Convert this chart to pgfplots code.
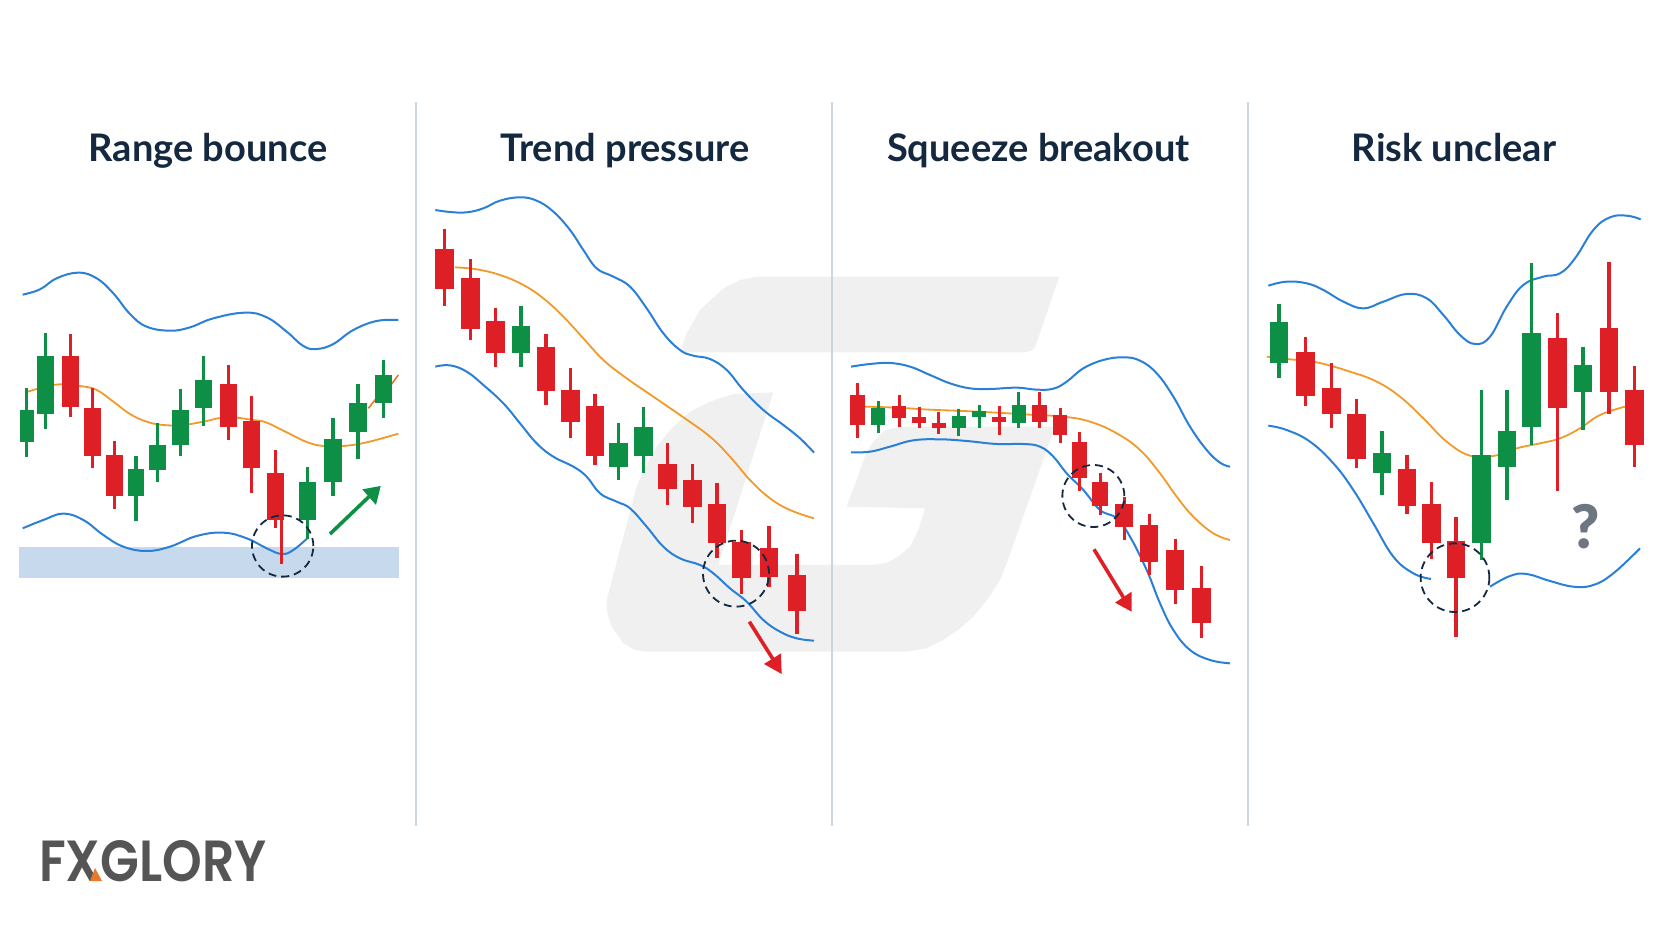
\documentclass[border=0pt]{standalone}
\usepackage{fontspec}
\setmainfont{Lato}
\newfontfamily\logofont{Poppins SemiBold}
\newfontfamily\qfont{Lato Black}
\usepackage{pgfplots}
\pgfplotsset{compat=1.18}
\definecolor{cred}{HTML}{DF1F26}
\definecolor{cgreen}{HTML}{0D8F46}
\definecolor{cblue}{HTML}{2A7FD6}
\definecolor{corange}{HTML}{F19A2A}
\definecolor{cnavy}{HTML}{14283F}
\definecolor{cband}{HTML}{C6D9ED}
\definecolor{cmark}{HTML}{F0F0F0}
\definecolor{cdiv}{HTML}{CBD5DD}
\definecolor{clogo}{HTML}{555555}
\definecolor{corg}{HTML}{E8792B}
\definecolor{cq}{HTML}{6E7681}
\pgfplotsset{
  panel/.style={hide axis, scale only axis, clip=false, y dir=reverse, anchor=south west,
    title style={font=\fontsize{38}{44}\selectfont\bfseries, text=cnavy, anchor=center, text height=29pt, text depth=9pt, inner sep=0pt}},
  upper/.style={cblue, line width=2pt, smooth, tension=0.7, no markers},
  mid/.style={corange, line width=1.8pt, smooth, tension=0.7, no markers},
}
% x, wick top, body top, body bottom, wick bottom, colour, body width, wick width
\newcommand{\candle}[8]{%
  \addplot[#6, line width=#8pt/3, no markers] coordinates {(#1,#2)(#1,#5)};
  \addplot[#6, line width=#7pt/3, no markers] coordinates {(#1,#3)(#1,#4)};
}
\newcommand{\ring}[3]{%
  \addplot[only marks, mark=o, mark size=#3pt/3, mark options={draw=cnavy, line width=1.8pt, dash pattern=on 8pt off 5pt}] coordinates {(#1,#2)};
}
\begin{document}
\begin{tikzpicture}
\useasboundingbox (0pt,0pt) rectangle (1664pt,928pt);
% watermark
\begin{axis}[panel, at={(590pt,258pt)}, width=490pt, height=410pt, xmin=0, xmax=1470, ymin=0, ymax=1230]
\addplot[fill=cmark, draw=none] coordinates {(500,50)(1408,50)(1335,262)(1325,272)(1305,277)(270,277)(290,220)(330,150)(400,85)(450,60)} --cycle;
\addplot[fill=cmark, draw=none] coordinates {(550,397)(430,402)(360,425)(300,455)(245,505)(200,560)(165,620)(140,680)(50,1020)(52,1060)(65,1100)(100,1150)(135,1170)(170,1175)(950,1175)(1010,1165)(1060,1140)(1110,1105)(1150,1070)(1195,1015)(1230,960)(1250,910)(1395,500)(950,500)(905,505)(880,515)(850,545)(830,575)(770,740)(1005,745)(985,810)(960,860)(925,890)(890,908)(850,915)(385,915)} --cycle;
\end{axis}
% dividers and logo
\begin{axis}[panel, at={(0pt,0pt)}, width=1664pt, height=928pt, xmin=0, xmax=1664, ymin=0, ymax=928]
\addplot[cdiv, line width=1.6pt, no markers] coordinates {(416,102)(416,826)};
\addplot[cdiv, line width=1.6pt, no markers] coordinates {(832,102)(832,826)};
\addplot[cdiv, line width=1.6pt, no markers] coordinates {(1248,102)(1248,826)};
\node[anchor=west, inner sep=0pt, text=clogo, font=\logofont\fontsize{58}{60}\selectfont, xscale=0.87, transform shape] at (axis cs:39,861) {FXGLORY};
\addplot[fill=corg, draw=none] coordinates {(90,881)(102,881)(95,868)} --cycle;
\end{axis}
% Range bounce
\begin{axis}[panel, at={(0pt,328pt)}, width=420pt, height=360pt, xmin=0, xmax=1260, ymin=0, ymax=1080,
  title={Range bounce}, title style={at={(axis cs:624,-248)}}]
\addplot[fill=cband, draw=none] coordinates {(58,921)(1196,921)(1196,1013)(58,1013)} --cycle;
\addplot[upper] coordinates {(68,164)(120,148)(170,115)(235,98)(290,115)(340,160)(390,222)(440,260)(510,272)(570,262)(640,235)(735,218)(800,232)(860,275)(910,318)(950,327)(1000,312)(1060,270)(1130,243)(1195,240)};
\addplot[upper] coordinates {(68,865)(130,840)(190,821)(250,840)(310,885)(370,920)(440,933)(510,920)(590,888)(670,878)(740,895)(800,925)(845,942)(880,930)(925,892)};
\addplot[mid] coordinates {(80,456)(130,442)(180,433)(240,438)(290,450)(340,485)(390,522)(440,545)(490,555)(550,555)(610,545)(680,532)(760,540)(800,548)(860,577)(920,606)(970,618)(1030,618)(1100,607)(1195,581)};
\addplot[color=corg, line width=1.6pt, no markers] coordinates {(1105,505)(1125,480)(1175,432)(1195,405)};
\candle{80}{443}{510}{605}{652}{cgreen}{42}{9}
\candle{137}{280}{347}{523}{566}{cgreen}{52}{10}
\candle{211}{283}{347}{500}{531}{cred}{53}{10}
\candle{278}{445}{505}{648}{683}{cred}{51}{10}
\candle{343}{603}{646}{767}{808}{cred}{50}{10}
\candle{408}{647}{688}{767}{842}{cgreen}{50}{10}
\candle{473}{550}{614}{690}{725}{cgreen}{50}{10}
\candle{541}{448}{510}{616}{649}{cgreen}{50}{10}
\candle{611}{347}{419}{505}{559}{cgreen}{52}{10}
\candle{685}{376}{431}{562}{599}{cred}{52}{10}
\candle{755}{469}{542}{684}{760}{cred}{52}{10}
\candle{827}{631}{698}{841}{865}{cred}{52}{10}
\addplot[cred, line width=3.2pt, no markers] coordinates {(845,841)(845,972)};
\candle{923}{682}{725}{841}{897}{cgreen}{52}{10}
\candle{999}{535}{596}{726}{769}{cgreen}{52}{10}
\candle{1074}{433}{488}{576}{657}{cgreen}{52}{10}
\candle{1150}{360}{404}{490}{535}{cgreen}{52}{10}
\ring{848}{918}{92}
\addplot[cgreen, line width=3.6pt, no markers] coordinates {(990,882)(1107,770)};
\addplot[fill=cgreen, draw=none] coordinates {(1142,738)(1087,748)(1128,795)} --cycle;
\end{axis}
% Trend pressure
\begin{axis}[panel, at={(420pt,238pt)}, width=420pt, height=510pt, xmin=0, xmax=1260, ymin=0, ymax=1530,
  title={Trend pressure}, title style={at={(axis cs:615,-68)}}]
\addplot[upper] coordinates {(46,90)(90,96)(140,97)(190,85)(240,62)(300,52)(350,62)(400,95)(450,150)(490,210)(530,265)(580,290)(630,320)(680,385)(730,460)(780,510)(820,527)(870,537)(920,570)(970,630)(1030,690)(1090,735)(1140,775)(1182,818)};
\addplot[upper] coordinates {(46,560)(90,556)(140,575)(190,615)(250,670)(300,730)(350,790)(400,830)(460,860)(500,890)(540,940)(590,965)(630,985)(680,1040)(730,1100)(780,1135)(840,1155)(880,1180)(930,1225)(980,1265)(1030,1320)(1080,1355)(1130,1375)(1182,1382)};
\addplot[mid] coordinates {(105,262)(170,268)(240,285)(310,315)(370,355)(430,410)(490,475)(550,540)(620,595)(700,650)(790,712)(870,770)(930,830)(990,900)(1050,955)(1110,990)(1182,1015)};
\candle{74}{148}{206}{327}{378}{cred}{56}{10}
\candle{151}{238}{295}{448}{480}{cred}{56}{10}
\candle{226}{384}{423}{518}{561}{cred}{56}{10}
\candle{303}{377}{439}{518}{560}{cgreen}{56}{10}
\candle{378}{461}{500}{634}{674}{cred}{56}{10}
\candle{452}{565}{630}{727}{773}{cred}{56}{10}
\candle{525}{642}{679}{828}{856}{cred}{56}{10}
\candle{596}{728}{790}{861}{901}{cgreen}{56}{10}
\candle{670}{680}{742}{828}{878}{cgreen}{56}{10}
\candle{743}{790}{851}{926}{975}{cred}{56}{10}
\candle{817}{853}{899}{980}{1030}{cred}{56}{10}
\candle{891}{908}{973}{1089}{1134}{cred}{56}{10}
\candle{965}{1051}{1087}{1194}{1243}{cred}{56}{10}
\candle{1047}{1037}{1103}{1190}{1222}{cred}{56}{10}
\candle{1131}{1122}{1184}{1294}{1362}{cred}{56}{10}
\ring{948}{1181}{99}
\addplot[cred, line width=3.6pt, no markers] coordinates {(988,1325)(1058,1436)};
\addplot[fill=cred, draw=none] coordinates {(1085,1482)(1032,1452)(1083,1420)} --cycle;
\end{axis}
% Squeeze breakout
\begin{axis}[panel, at={(830pt,248pt)}, width=420pt, height=340pt, xmin=0, xmax=1260, ymin=0, ymax=1020,
  title={Squeeze breakout}, title style={at={(axis cs:625,-548)}}]
\addplot[upper] coordinates {(63,80)(120,72)(180,69)(240,80)(300,105)(360,130)(420,145)(480,147)(560,143)(620,149)(670,146)(710,125)(760,85)(820,60)(880,52)(930,62)(980,100)(1030,170)(1080,260)(1130,330)(1170,368)(1200,380)};
\addplot[upper] coordinates {(63,337)(120,335)(180,320)(250,301)(330,298)(410,303)(500,312)(580,312)(630,320)(670,350)(710,400)(760,450)(810,510)(860,535)(900,590)(950,690)(990,790)(1030,870)(1080,930)(1140,960)(1200,970)};
\addplot[mid] coordinates {(105,200)(200,203)(300,209)(400,213)(500,218)(600,224)(700,230)(780,245)(860,280)(930,330)(990,400)(1040,470)(1090,530)(1150,580)(1200,600)};
\candle{83}{130}{166}{255}{293}{cred}{44}{10}
\candle{145}{184}{204}{255}{279}{cgreen}{42}{9}
\candle{207}{165}{197}{235}{260}{cred}{42}{9}
\candle{267}{200}{232}{248}{264}{cred}{42}{9}
\candle{326}{217}{248}{263}{282}{cred}{42}{9}
\candle{386}{207}{229}{263}{287}{cgreen}{42}{9}
\candle{447}{195}{212}{231}{264}{cgreen}{42}{9}
\candle{507}{197}{231}{247}{285}{cred}{42}{9}
\candle{566}{155}{196}{248}{263}{cgreen}{42}{9}
\candle{628}{157}{196}{247}{264}{cred}{44}{9}
\candle{690}{203}{226}{286}{308}{cred}{44}{9}
\candle{749}{277}{306}{413}{452}{cred}{46}{9}
\candle{811}{398}{426}{497}{524}{cred}{48}{9}
\candle{882}{470}{493}{560}{600}{cred}{52}{9}
\candle{957}{522}{556}{665}{705}{cred}{55}{9}
\candle{1035}{596}{630}{750}{792}{cred}{55}{9}
\candle{1114}{678}{743}{850}{895}{cred}{55}{9}
\ring{790}{468}{93}
\addplot[cred, line width=3.6pt, no markers] coordinates {(792,628)(880,772)};
\addplot[fill=cred, draw=none] coordinates {(905,815)(855,788)(905,755)} --cycle;
\end{axis}
% Risk unclear
\begin{axis}[panel, at={(1250pt,278pt)}, width=414pt, height=450pt, xmin=0, xmax=1242, ymin=0, ymax=1350,
  title={Risk unclear}, title style={at={(axis cs:612,-128)}}]
\addplot[upper] coordinates {(55,257)(110,245)(170,250)(220,270)(280,305)(340,325)(400,305)(470,282)(530,295)(580,345)(630,405)(675,432)(720,410)(770,320)(820,255)(880,230)(930,220)(975,175)(1030,90)(1080,52)(1130,47)(1172,58)};
\addplot[upper] coordinates {(55,677)(110,690)(180,725)(250,790)(310,870)(370,970)(430,1070)(490,1120)(543,1137)};
\addplot[upper] coordinates {(720,1160)(780,1128)(830,1122)(900,1143)(970,1160)(1030,1155)(1090,1120)(1170,1045)};
\addplot[mid] coordinates {(50,470)(120,478)(200,487)(300,515)(380,545)(450,590)(520,655)(590,725)(660,767)(730,768)(800,745)(870,730)(930,715)(990,685)(1050,645)(1125,620)};
\candle{87}{311}{367}{489}{533}{cgreen}{56}{10}
\candle{167}{410}{455}{587}{617}{cred}{56}{10}
\candle{244}{490}{564}{643}{685}{cred}{56}{10}
\candle{320}{596}{641}{778}{803}{cred}{56}{10}
\candle{396}{693}{758}{820}{885}{cgreen}{56}{10}
\candle{471}{765}{806}{917}{943}{cred}{56}{10}
\candle{545}{846}{912}{1028}{1077}{cred}{56}{10}
\candle{618}{950}{1022}{1134}{1310}{cred}{56}{10}
\candle{695}{569}{765}{1028}{1080}{cgreen}{56}{10}
\candle{771}{569}{693}{801}{899}{cgreen}{56}{10}
\candle{845}{188}{400}{680}{735}{cgreen}{56}{10}
\candle{923}{340}{414}{624}{873}{cred}{56}{10}
\candle{999}{441}{495}{577}{689}{cgreen}{56}{10}
\candle{1077}{186}{384}{577}{643}{cred}{56}{10}
\candle{1154}{498}{571}{736}{802}{cred}{56}{10}
\ring{615}{1133}{103}
\node[text=cq, font=\qfont\fontsize{60}{64}\selectfont, inner sep=0pt] at (axis cs:1008,980) {?};
\end{axis}
\end{tikzpicture}
\end{document}
